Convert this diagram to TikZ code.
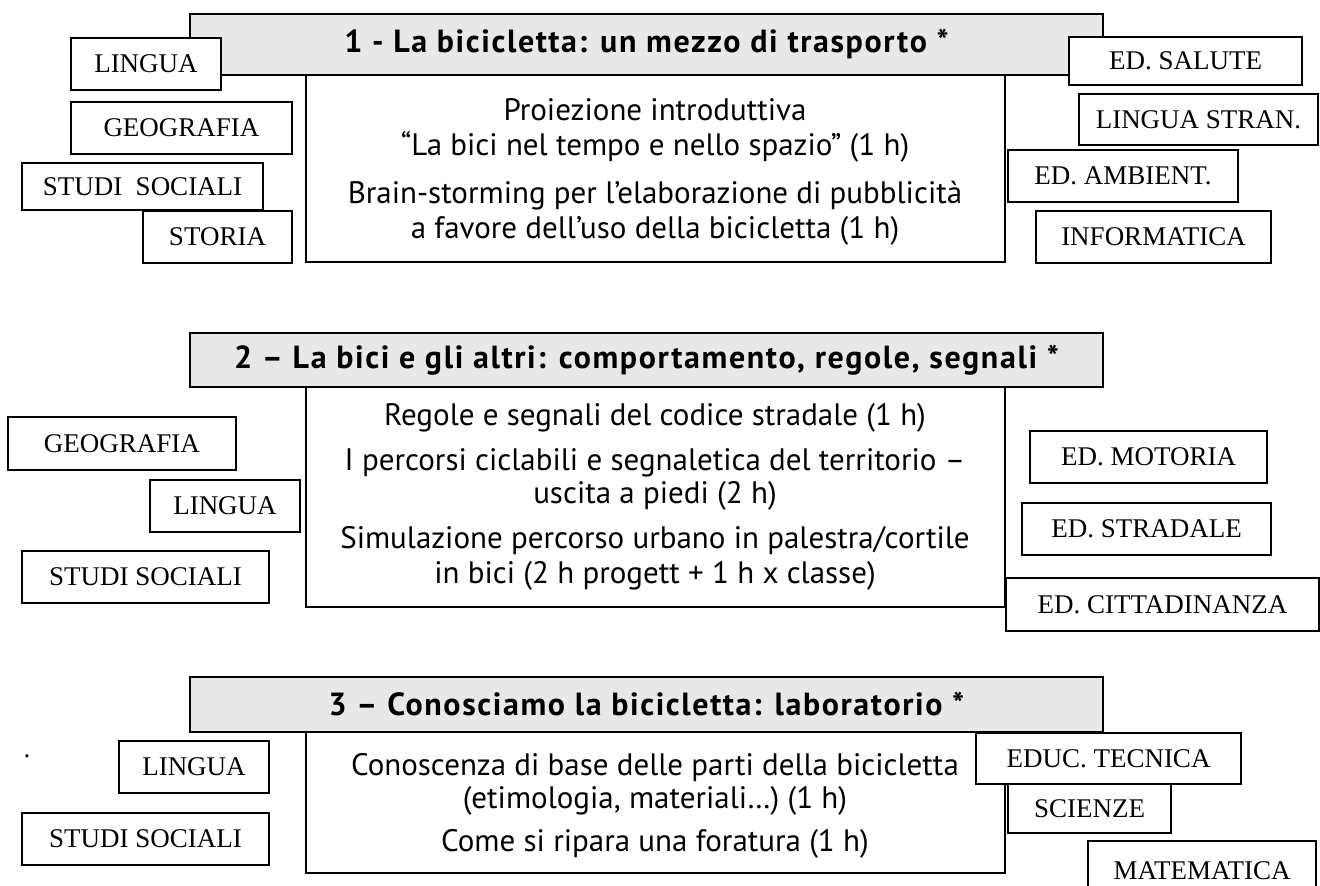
\documentclass[tikz,border=0pt]{standalone}
\usepackage{fontspec}
\setmainfont{PT Sans}
\newfontfamily\materiafont{Liberation Serif}
\newfontfamily\titolofont[LetterSpace=5.0]{PT Sans}
\definecolor{grigiotitolo}{HTML}{E8E8E8}
\tikzset{
  titolo/.style={draw, line width=2pt, fill=grigiotitolo, inner sep=0pt, outer sep=0pt,
    anchor=north west, minimum width=913pt, font=\titolofont\fontsize{32}{36}\selectfont\bfseries},
  attivita/.style={draw, line width=2pt, fill=white, inner sep=0pt, outer sep=0pt,
    anchor=north west, minimum width=699pt},
  riga/.style={inner sep=0pt, anchor=base, font=\fontsize{31}{36}\selectfont},
  materia/.style={draw, line width=1.5pt, fill=white, inner sep=0pt, outer sep=0pt,
    anchor=north west, font=\materiafont\fontsize{27}{32}\selectfont},
}
\begin{document}
\begin{tikzpicture}[x=1pt,y=-1pt]
\useasboundingbox[fill=white] (0,0) rectangle (1320,886);
% blocco 1
\node[attivita, minimum height=187pt] (att1) at (306,75) {};
\node[titolo, minimum height=61pt] (tit1) at (190,14) {1 - La bicicletta: un mezzo di trasporto *};
\node[riga] (r1a) at (655,120) {Proiezione introduttiva};
\node[riga] (r1b) at (655,155) {“La bici nel tempo e nello spazio” (1 h)};
\node[riga] (r1c) at (655,203) {Brain-storming per l’elaborazione di pubblicità};
\node[riga] (r1d) at (655,238) {a favore dell’uso della bicicletta (1 h)};
\node[materia, minimum width=150pt, minimum height=52pt] (lingua1) at (71,38) {LINGUA};
\node[materia, minimum width=221pt, minimum height=52pt] (geo1) at (71,102) {GEOGRAFIA};
\node[materia, minimum width=241pt, minimum height=47pt] (studi1) at (22,163) {STUDI\ \ SOCIALI};
\node[materia, minimum width=149pt, minimum height=52pt] (storia1) at (143,211) {STORIA};
\node[materia, minimum width=233pt, minimum height=48pt] (salute1) at (1069,37) {ED. SALUTE};
\node[materia, minimum width=239pt, minimum height=51pt] (stran1) at (1079,94) {LINGUA STRAN.};
\node[materia, minimum width=230pt, minimum height=52pt] (amb1) at (1008,150) {ED. AMBIENT.};
\node[materia, minimum width=235pt, minimum height=52pt] (info1) at (1036,211) {INFORMATICA};
% blocco 2
\node[attivita, minimum height=220pt] (att2) at (306,387) {};
\node[titolo, minimum height=54pt] (tit2) at (190,333) {2 – La bici e gli altri: comportamento, regole, segnali *};
\node[riga] (r2a) at (655,425) {Regole e segnali del codice stradale (1 h)};
\node[riga] (r2b) at (655,470) {I percorsi ciclabili e segnaletica del territorio –};
\node[riga] (r2c) at (655,503) {uscita a piedi (2 h)};
\node[riga] (r2d) at (655,548) {Simulazione percorso urbano in palestra/cortile};
\node[riga] (r2e) at (655,583) {in bici (2 h progett + 1 h x classe)};
\node[materia, minimum width=228pt, minimum height=53pt] (geo2) at (8,417) {GEOGRAFIA};
\node[materia, minimum width=150pt, minimum height=52pt] (lingua2) at (150,480) {LINGUA};
\node[materia, minimum width=247pt, minimum height=52pt] (studi2) at (22,551) {STUDI SOCIALI};
\node[materia, minimum width=237pt, minimum height=52pt] (motoria2) at (1030,431) {ED. MOTORIA};
\node[materia, minimum width=249pt, minimum height=52pt] (stradale2) at (1022,503) {ED. STRADALE};
\node[materia, minimum width=313pt, minimum height=53pt] (citt2) at (1006,578) {ED. CITTADINANZA};
% blocco 3
\node[attivita, minimum height=141pt] (att3) at (306,732) {};
\node[titolo, minimum height=55pt] (tit3) at (190,677) {3 – Conosciamo la bicicletta: laboratorio *};
\node[riga] (r3a) at (655,775) {Conoscenza di base delle parti della bicicletta};
\node[riga] (r3b) at (655,808) {(etimologia, materiali…) (1 h)};
\node[riga] (r3c) at (655,851) {Come si ripara una foratura (1 h)};
\node[riga, font=\materiafont\fontsize{27}{32}\selectfont] (punto) at (27,757) {.};
\node[materia, minimum width=150pt, minimum height=52pt] (lingua3) at (119,741) {LINGUA};
\node[materia, minimum width=247pt, minimum height=52pt] (studi3) at (22,813) {STUDI SOCIALI};
\node[materia, minimum width=265pt, minimum height=51pt] (tecnica3) at (976,733) {EDUC. TECNICA};
\node[materia, minimum width=163pt, minimum height=49pt] (scienze3) at (1008,784) {SCIENZE};
\node[materia, minimum width=228pt, minimum height=60pt] (mate3) at (1088,841) {MATEMATICA};
\end{tikzpicture}
\end{document}
